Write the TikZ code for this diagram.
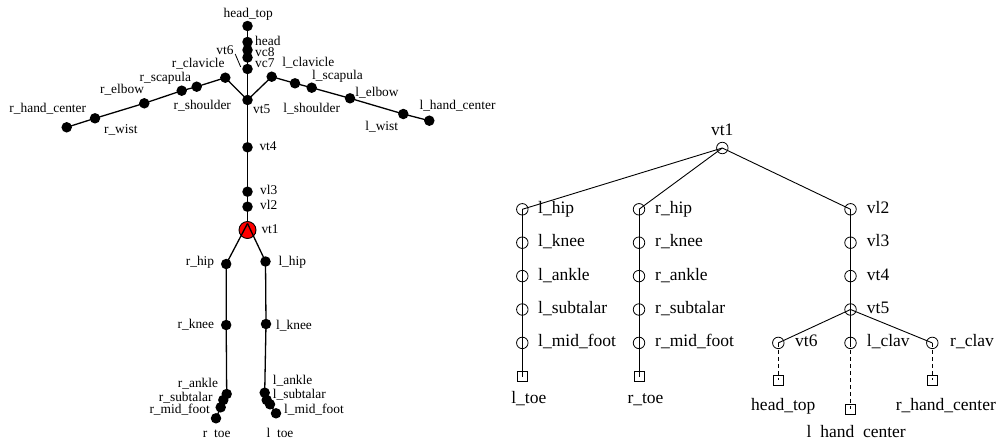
\documentclass[tikz,border=0pt]{standalone}
\usepackage{fontspec}
\setmainfont{Liberation Serif}
\begin{document}
\begin{tikzpicture}[x=1pt,y=-1pt,
  dot/.style={circle,fill=black,inner sep=0pt,minimum size=10.5pt},
  lab/.style={font=\fontsize{13.4}{14}\selectfont,inner sep=0pt,text height=9.4pt,text depth=3.2pt},
  tightlab/.style={font=\fontsize{13.4}{14}\selectfont,inner sep=0pt,anchor=base west},
  bone/.style={line width=1.3pt},
  tnode/.style={circle,draw,inner sep=0pt,minimum size=11.5pt,line width=0.8pt},
  tleaf/.style={rectangle,draw,inner sep=0pt,minimum size=10pt,line width=0.8pt},
  tlab/.style={font=\fontsize{17.5}{18}\selectfont,inner sep=0pt,text height=12.2pt,text depth=4.2pt},
  tedge/.style={line width=0.9pt},
  tdash/.style={line width=0.9pt,dash pattern=on 4pt off 3pt}]
\useasboundingbox (0,0) rectangle (1000,442);

% ---------------- left skeleton ----------------
\node[dot] (headtop) at (247.5,26) {};
\node[dot] (head) at (247.5,42) {};
\node[dot] (vc8) at (247.5,50) {};
\node[dot] (vc7) at (247.5,57.5) {};
\node[dot] (vt6) at (247.5,69) {};
\node[dot] (vt5) at (247.5,100) {};
\node[dot] (vt4) at (247.5,147.3) {};
\node[dot] (vl3) at (247.5,191.7) {};
\node[dot] (vl2) at (247.5,206.7) {};
\node[circle,draw=black,fill=red,line width=0.9pt,inner sep=0pt,minimum size=17pt] (vt1) at (247.5,230) {};
\coordinate (vt1apex) at (247.5,223.5);

\node[dot] (rcl) at (225.3,77.7) {};
\node[dot] (rsh) at (196.7,86.7) {};
\node[dot] (rsc) at (181.7,90.7) {};
\node[dot] (rel) at (144.3,103.3) {};
\node[dot] (rwi) at (95,118.3) {};
\node[dot] (rhc) at (66.7,127.3) {};

\node[dot] (lcl) at (271.7,76.7) {};
\node[dot] (lsc) at (295,83.3) {};
\node[dot] (lsh) at (311.7,87.7) {};
\node[dot] (lel) at (350,98.3) {};
\node[dot] (lwi) at (403.3,114) {};
\node[dot] (lhc) at (429.3,120.7) {};

\node[dot] (rhip) at (226.2,264) {};
\node[dot] (rknee) at (226.2,325) {};
\node[dot] (rank) at (226.7,394) {};
\node[dot] (rsub) at (223.3,400) {};
\node[dot] (rmid) at (220.7,407.3) {};
\node[dot] (rtoe) at (216,418.3) {};

\node[dot] (lhip) at (265.5,261.5) {};
\node[dot] (lknee) at (266,324) {};
\node[dot] (lank) at (264.7,392.7) {};
\node[dot] (lsub) at (266.7,400) {};
\node[dot] (lmid) at (270,404.3) {};
\node[dot] (ltoe) at (276,413.3) {};

\draw[bone] (headtop.center) -- (head.center) -- (vc8.center) -- (vc7.center) -- (vt6.center) -- (vt5.center) -- (vt4.center) -- (vl3.center) -- (vl2.center) -- (vt1);
\draw[bone] (vt5.center) -- (rcl.center) -- (rsh.center) -- (rsc.center) -- (rel.center) -- (rwi.center) -- (rhc.center);
\draw[bone] (vt5.center) -- (lcl.center) -- (lsc.center) -- (lsh.center) -- (lel.center) -- (lwi.center) -- (lhc.center);
\draw[bone] (vt1apex) -- (rhip.center) -- (rknee.center) -- (rank.center) -- (rsub.center) -- (rmid.center) -- (rtoe.center);
\draw[bone] (vt1apex) -- (lhip.center) -- (lknee.center) -- (lank.center) -- (lsub.center) -- (lmid.center) -- (ltoe.center);

% labels
\node[lab] (Lheadtop) at (248.3,14) {head\_top};
\node[tightlab] (Lhead) at (255,45.1) {head};
\node[tightlab] (Lvc8) at (255,56.1) {vc8};
\node[tightlab] (Lvc7) at (255,67.1) {vc7};
\node[lab] (Lvt6) at (225,51.7) {vt6};
\coordinate (vt6tip) at (240.7,67);
\draw[line width=0.8pt] (235.2,54) -- (vt6tip);
\node[lab,anchor=west] (Lvt5) at (253,110) {vt5};
\node[lab,anchor=west] (Lvt4) at (259.3,147.3) {vt4};
\node[lab,anchor=west] (Lvl3) at (260,191.7) {vl3};
\node[lab,anchor=west] (Lvl2) at (260,206.7) {vl2};
\node[lab,anchor=west] (Lvt1) at (261.3,230) {vt1};

\node[lab] (Lrhc) at (47.8,109.3) {r\_hand\_center};
\node[lab] (Lrwi) at (120.8,130) {r\_wist};
\node[lab] (Lrel) at (122,90.7) {r\_elbow};
\node[lab] (Lrsc) at (165.3,78.3) {r\_scapula};
\node[lab] (Lrsh) at (202.3,106.7) {r\_shoulder};
\node[lab] (Lrcl) at (198.2,64.3) {r\_clavicle};

\node[lab] (Llcl) at (308.3,63.3) {l\_clavicle};
\node[lab] (Llsc) at (337.5,76) {l\_scapula};
\node[lab] (Llsh) at (311.7,109) {l\_shoulder};
\node[lab] (Llel) at (377,93.3) {l\_elbow};
\node[lab] (Llwi) at (381.7,127.7) {l\_wist};
\node[lab] (Llhc) at (457.5,106) {l\_hand\_center};

\node[lab] (Lrhip) at (200,262.3) {r\_hip};
\node[lab,anchor=west] (Llhip) at (278.3,262.3) {l\_hip};
\node[lab,anchor=east] (Lrknee) at (214.3,325.7) {r\_knee};
\node[lab,anchor=west] (Llknee) at (276,326.7) {l\_knee};
\node[lab,anchor=east] (Lrank) at (218.3,384) {r\_ankle};
\node[lab,anchor=east] (Lrsub) at (212.7,398.3) {r\_subtalar};
\node[lab,anchor=east] (Lrmid) at (210,410.7) {r\_mid\_foot};
\node[lab,anchor=west] (Llank) at (272.7,381.7) {l\_ankle};
\node[lab,anchor=west] (Llsub) at (272.7,395.7) {l\_subtalar};
\node[lab,anchor=west] (Llmid) at (284,410) {l\_mid\_foot};

\begin{scope}
\clip (0,0) rectangle (700,437.3);
\node[lab] (Lrtoe) at (216.7,434) {r\_toe};
\node[lab] (Lltoe) at (280,434) {l\_toe};
\end{scope}

% ---------------- right tree ----------------
\node[tnode] (Tvt1) at (722.3,148) {};
\node[tnode] (Tlhip) at (522.3,209.3) {};
\node[tnode] (Tlknee) at (522.3,242.7) {};
\node[tnode] (Tlank) at (522.3,276.1) {};
\node[tnode] (Tlsub) at (522.3,309.5) {};
\node[tnode] (Tlmid) at (522.3,342.9) {};
\node[tleaf] (Tltoe) at (522.3,376.5) {};
\node[tnode] (Trhip) at (639,209.3) {};
\node[tnode] (Trknee) at (639,242.7) {};
\node[tnode] (Trank) at (639,276.1) {};
\node[tnode] (Trsub) at (639,309.5) {};
\node[tnode] (Trmid) at (639,342.9) {};
\node[tleaf] (Trtoe) at (639,376.5) {};
\node[tnode] (Tvl2) at (850.5,209.3) {};
\node[tnode] (Tvl3) at (850.5,242.7) {};
\node[tnode] (Tvt4) at (850.5,276.1) {};
\node[tnode] (Tvt5) at (850.5,309.5) {};
\node[tnode] (Tvt6) at (778.3,342.9) {};
\node[tnode] (Tlclav) at (850.5,342.9) {};
\node[tnode] (Trclav) at (932.3,342.9) {};
\node[tleaf] (Theadtop) at (778.3,380) {};
\node[tleaf] (Tlhc) at (850.5,409.3) {};
\node[tleaf] (Trhc) at (932.3,380) {};

\draw[tedge] (Tvt1.center) -- (Tlhip.center);
\draw[tedge] (Tvt1.center) -- (Trhip.center);
\draw[tedge] (Tvt1.center) -- (Tvl2.center);
\draw[tedge] (Tlhip.center) -- (Tlknee.center) -- (Tlank.center) -- (Tlsub.center) -- (Tlmid.center) -- (Tltoe.center);
\draw[tedge] (Trhip.center) -- (Trknee.center) -- (Trank.center) -- (Trsub.center) -- (Trmid.center) -- (Trtoe.center);
\draw[tedge] (Tvl2.center) -- (Tvl3.center) -- (Tvt4.center) -- (Tvt5.center);
\draw[tedge] (Tvt5.center) -- (Tvt6.center);
\draw[tedge] (Tvt5.center) -- (Tlclav.center);
\draw[tedge] (Tvt5.center) -- (Trclav.center);
\draw[tdash] (Tvt6.center) -- (Theadtop.center);
\draw[tdash] (Tlclav.center) -- (Tlhc.center);
\draw[tdash] (Trclav.center) -- (Trhc.center);

\node[tlab] (TLvt1) at (722.3,131) {vt1};
\node[tlab,anchor=west] (TLlhip) at (538,209.3) {l\_hip};
\node[tlab,anchor=west] (TLlknee) at (538,242.7) {l\_knee};
\node[tlab,anchor=west] (TLlank) at (538,276.1) {l\_ankle};
\node[tlab,anchor=west] (TLlsub) at (538,309.5) {l\_subtalar};
\node[tlab,anchor=west] (TLlmid) at (538,342.9) {l\_mid\_foot};
\node[tlab] (TLltoe) at (528.8,399.3) {l\_toe};
\node[tlab,anchor=west] (TLrhip) at (655,209.3) {r\_hip};
\node[tlab,anchor=west] (TLrknee) at (655,242.7) {r\_knee};
\node[tlab,anchor=west] (TLrank) at (655,276.1) {r\_ankle};
\node[tlab,anchor=west] (TLrsub) at (655,309.5) {r\_subtalar};
\node[tlab,anchor=west] (TLrmid) at (655,342.9) {r\_mid\_foot};
\node[tlab] (TLrtoe) at (645.5,399.3) {r\_toe};
\node[tlab,anchor=west] (TLvl2) at (866.7,209.3) {vl2};
\node[tlab,anchor=west] (TLvl3) at (866.7,242.7) {vl3};
\node[tlab,anchor=west] (TLvt4) at (866.7,276.1) {vt4};
\node[tlab,anchor=west] (TLvt5) at (866.7,309.5) {vt5};
\node[tlab,anchor=west] (TLvt6) at (795,342.9) {vt6};
\node[tlab,anchor=west] (TLlclav) at (866.7,342.9) {l\_clav};
\node[tlab,anchor=west] (TLrclav) at (950,342.9) {r\_clav};
\node[tlab] (TLheadtop) at (783.3,406) {head\_top};
\node[tlab] (TLrhc) at (945.8,406) {r\_hand\_center};
\begin{scope}
\clip (700,0) rectangle (1000,437.1);
\node[tlab] (TLlhc) at (856.2,433) {l\_hand\_center};
\end{scope}
\end{tikzpicture}
\end{document}
